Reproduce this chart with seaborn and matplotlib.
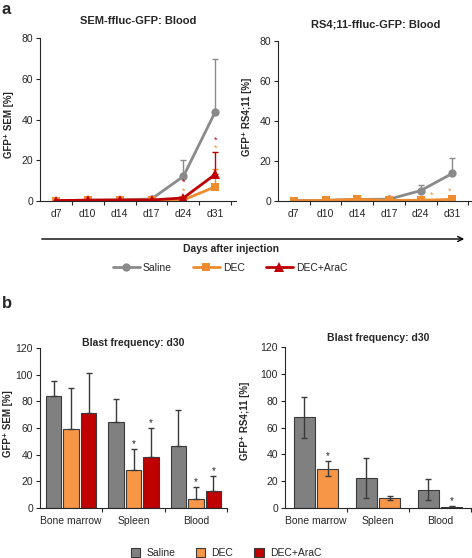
import numpy as np
import pandas as pd
import matplotlib
matplotlib.use('Agg')
import matplotlib.pyplot as plt
import seaborn as sns

# --- data ---
days = ['d7', 'd10', 'd14', 'd17', 'd24', 'd31']
groups = ['Saline', 'DEC', 'DEC+AraC']

sem_saline = [0.2, 0.4, 0.5, 1.0, 12.1, 43.8]
sem_saline_err = [0, 0, 0, 0, 8.0, 26.0]
sem_dec = [0.2, 0.3, 0.4, 0.4, 0.5, 7.0]
sem_dec_err = [0, 0, 0, 0, 0.5, 8.7]
sem_arac = [0.2, 0.4, 0.5, 0.5, 1.5, 13.1]
sem_arac_err = [0, 0, 0, 0, 0.5, 10.9]

rs_saline = [0.2, 0.3, 0.8, 0.9, 5.2, 13.8]
rs_saline_err = [0, 0, 0, 0.3, 2.6, 7.5]
rs_dec = [0.1, 0.3, 0.9, 0.3, 0.4, 0.8]

sites = ['Bone marrow', 'Spleen', 'Blood']
bl_sem_saline = [84.3, 64.5, 46.5]
bl_sem_saline_err = [11.0, 17.5, 27.0]
bl_sem_dec = [59.0, 28.5, 7.0]
bl_sem_dec_err = [31.0, 15.5, 8.5]
bl_sem_arac = [71.0, 38.0, 13.0]
bl_sem_arac_err = [30.0, 22.0, 11.0]

bl_rs_saline = [67.5, 22.3, 13.7]
bl_rs_saline_err = [15.0, 15.0, 7.8]
bl_rs_dec = [29.3, 7.2, 0.8]
bl_rs_dec_err = [5.5, 1.5, 0.4]

# --- style ---
sns.set_style('ticks')
plt.rcParams['font.family'] = ['Liberation Sans', 'DejaVu Sans']
plt.rcParams['axes.linewidth'] = 0.8

line_cols = {'Saline': '#8a8a8a', 'DEC': '#f08c30', 'DEC+AraC': '#c00000'}
bar_cols = {'Saline': '#808080', 'DEC': '#f79646', 'DEC+AraC': '#c00000'}
markers = {'Saline': 'o', 'DEC': 's', 'DEC+AraC': '^'}
msizes = {'Saline': 6, 'DEC': 6, 'DEC+AraC': 7}

W, H = 472, 558
fig = plt.figure(figsize=(W / 100, H / 100), dpi=100)


def box(l, top, r, bottom):
    return [l / W, 1 - bottom / H, (r - l) / W, (bottom - top) / H]


ax_tl = fig.add_axes(box(40, 38, 236, 201))
ax_tr = fig.add_axes(box(278, 41, 473, 201))
ax_bl = fig.add_axes(box(40, 348, 227, 508))
ax_br = fig.add_axes(box(285, 347, 471, 508))


def style_axes(ax, ncat, ymax, ystep, xlim):
    sns.despine(ax=ax)
    ax.set_ylim(0, ymax)
    ax.set_yticks(np.arange(0, ymax + 1, ystep))
    ax.set_xlim(*xlim)
    ax.set_xticks(np.arange(ncat))
    ax.set_xticks(np.arange(ncat) + 0.5, minor=True)
    ax.tick_params(axis='x', which='major', length=0, pad=6, labelsize=7.5)
    ax.tick_params(axis='x', which='minor', length=3, width=0.8, direction='out')
    ax.tick_params(axis='y', length=3, width=0.8, labelsize=7.5, pad=2)
    ax.set_xlabel('')


def line_panel(ax, series, title, ylabel, label_xy):
    x = np.arange(len(days))
    for name, vals, err in series:
        sns.lineplot(x=x, y=vals, ax=ax, color=line_cols[name], marker=markers[name],
                     markersize=msizes[name], markeredgewidth=0, linewidth=2,
                     label=name, legend=False)
        if err is not None:
            ax.errorbar(x, vals, yerr=[np.zeros(len(err)), err], fmt='none',
                        ecolor=line_cols[name], elinewidth=1, capsize=2.5, capthick=1)
    style_axes(ax, len(days), 80, 20, (-0.5, 5.65))
    ax.set_xticklabels(days)
    ax.set_title(title, fontsize=8, fontweight='bold', pad=10)
    ax.set_ylabel(ylabel, fontsize=7, fontweight='bold')
    ax.yaxis.set_label_coords(*label_xy)


line_panel(ax_tl, [('Saline', sem_saline, sem_saline_err),
                   ('DEC', sem_dec, sem_dec_err),
                   ('DEC+AraC', sem_arac, sem_arac_err)],
           'SEM-ffluc-GFP: Blood', 'GFP⁺ SEM [%]', (-0.135, 0.47))
line_panel(ax_tr, [('Saline', rs_saline, rs_saline_err),
                   ('DEC', rs_dec, None)],
           'RS4;11-ffluc-GFP: Blood', 'GFP⁺ RS4;11 [%]', (-0.133, 0.525))

# significance stars on line panels
for xi, yi, c in [(4, 9.2, 'DEC+AraC'), (4, 5.0, 'DEC'), (5, 30.0, 'DEC+AraC'), (5, 25.8, 'DEC')]:
    ax_tl.text(xi, yi, '*', color=line_cols[c], ha='center', va='center', fontsize=6.5)
for xi, yi in [(4.35, 2.8), (4.9, 4.8)]:
    ax_tr.text(xi, yi, '*', color=line_cols['DEC'], ha='center', va='center', fontsize=6.5)

star_map = {('bl', 'DEC'): [1, 2], ('bl', 'DEC+AraC'): [1, 2],
            ('br', 'DEC'): [0, 2]}


def bar_panel(ax, key, series, ylabel, label_xy, width, gap, pad, err_mode):
    rows = []
    for name, vals, err in series:
        for s, v in zip(sites, vals):
            rows.append({'site': s, 'group': name, 'value': v})
    df = pd.DataFrame(rows)
    names = [n for n, _, _ in series]
    sns.barplot(data=df, x='site', y='value', hue='group', hue_order=names,
                palette=[bar_cols[n] for n in names], saturation=1, errorbar=None,
                width=width, gap=gap, edgecolor='#3a3a3a', linewidth=0.8,
                legend=False, ax=ax)
    for cont, (name, vals, err) in zip(ax.containers, series):
        xs = [p.get_x() + p.get_width() / 2 for p in cont]
        yerr = [np.zeros(len(err)), err] if err_mode == 'up' else err
        ax.errorbar(xs, vals, yerr=yerr, fmt='none', ecolor='#3a3a3a',
                    elinewidth=1, capsize=2.5, capthick=1)
        for i in star_map.get((key, name), []):
            ax.text(xs[i], vals[i] + err[i] + 4, '*', ha='center', va='center', fontsize=7)
    style_axes(ax, len(sites), 120, 20, (-0.5, 2.5))
    ax.set_title('Blast frequency: d30', fontsize=7.5, fontweight='bold', pad=pad)
    ax.set_ylabel(ylabel, fontsize=7, fontweight='bold')
    ax.yaxis.set_label_coords(*label_xy)


bar_panel(ax_bl, 'bl', [('Saline', bl_sem_saline, bl_sem_saline_err),
                        ('DEC', bl_sem_dec, bl_sem_dec_err),
                        ('DEC+AraC', bl_sem_arac, bl_sem_arac_err)],
          'GFP⁺ SEM [%]', (-0.142, 0.525), 0.84, 0.12, 1.5, 'up')
bar_panel(ax_br, 'br', [('Saline', bl_rs_saline, bl_rs_saline_err),
                        ('DEC', bl_rs_dec, bl_rs_dec_err)],
          'GFP⁺ RS4;11 [%]', (-0.188, 0.54), 0.75, 0.1, 4, 'both')

# arrow and shared labels for panel a
fig.add_artist(matplotlib.patches.FancyArrowPatch(
    (39 / W, 1 - 239 / H), (467 / W, 1 - 239 / H), transform=fig.transFigure,
    arrowstyle='->', mutation_scale=9, linewidth=1, color='black'))
fig.text(231 / W, 1 - 249 / H, 'Days after injection', ha='center', va='center',
         fontsize=7.5, fontweight='bold')

h, l = ax_tl.get_legend_handles_labels()
fig.legend(h, l, loc='center', bbox_to_anchor=(230 / W, 1 - 268 / H), ncol=3,
           frameon=False, fontsize=7.5, handlelength=2.6, handletextpad=0.3,
           columnspacing=2.0, borderpad=0)

bar_handles = [matplotlib.patches.Patch(facecolor=bar_cols[g], edgecolor='#3a3a3a',
                                        linewidth=0.8) for g in groups]
fig.legend(bar_handles, groups, loc='center', bbox_to_anchor=(226 / W, 1 - 553 / H),
           ncol=3, frameon=False, fontsize=7.5, handlelength=0.9, handleheight=0.9,
           handletextpad=0.6, columnspacing=2.0, borderpad=0)

fig.text(0.004, 1 - 2 / H, 'a', fontsize=12, fontweight='bold', va='top')
fig.text(0.004, 1 - 296 / H, 'b', fontsize=12, fontweight='bold', va='top')

fig.savefig('out.png', dpi=100)
